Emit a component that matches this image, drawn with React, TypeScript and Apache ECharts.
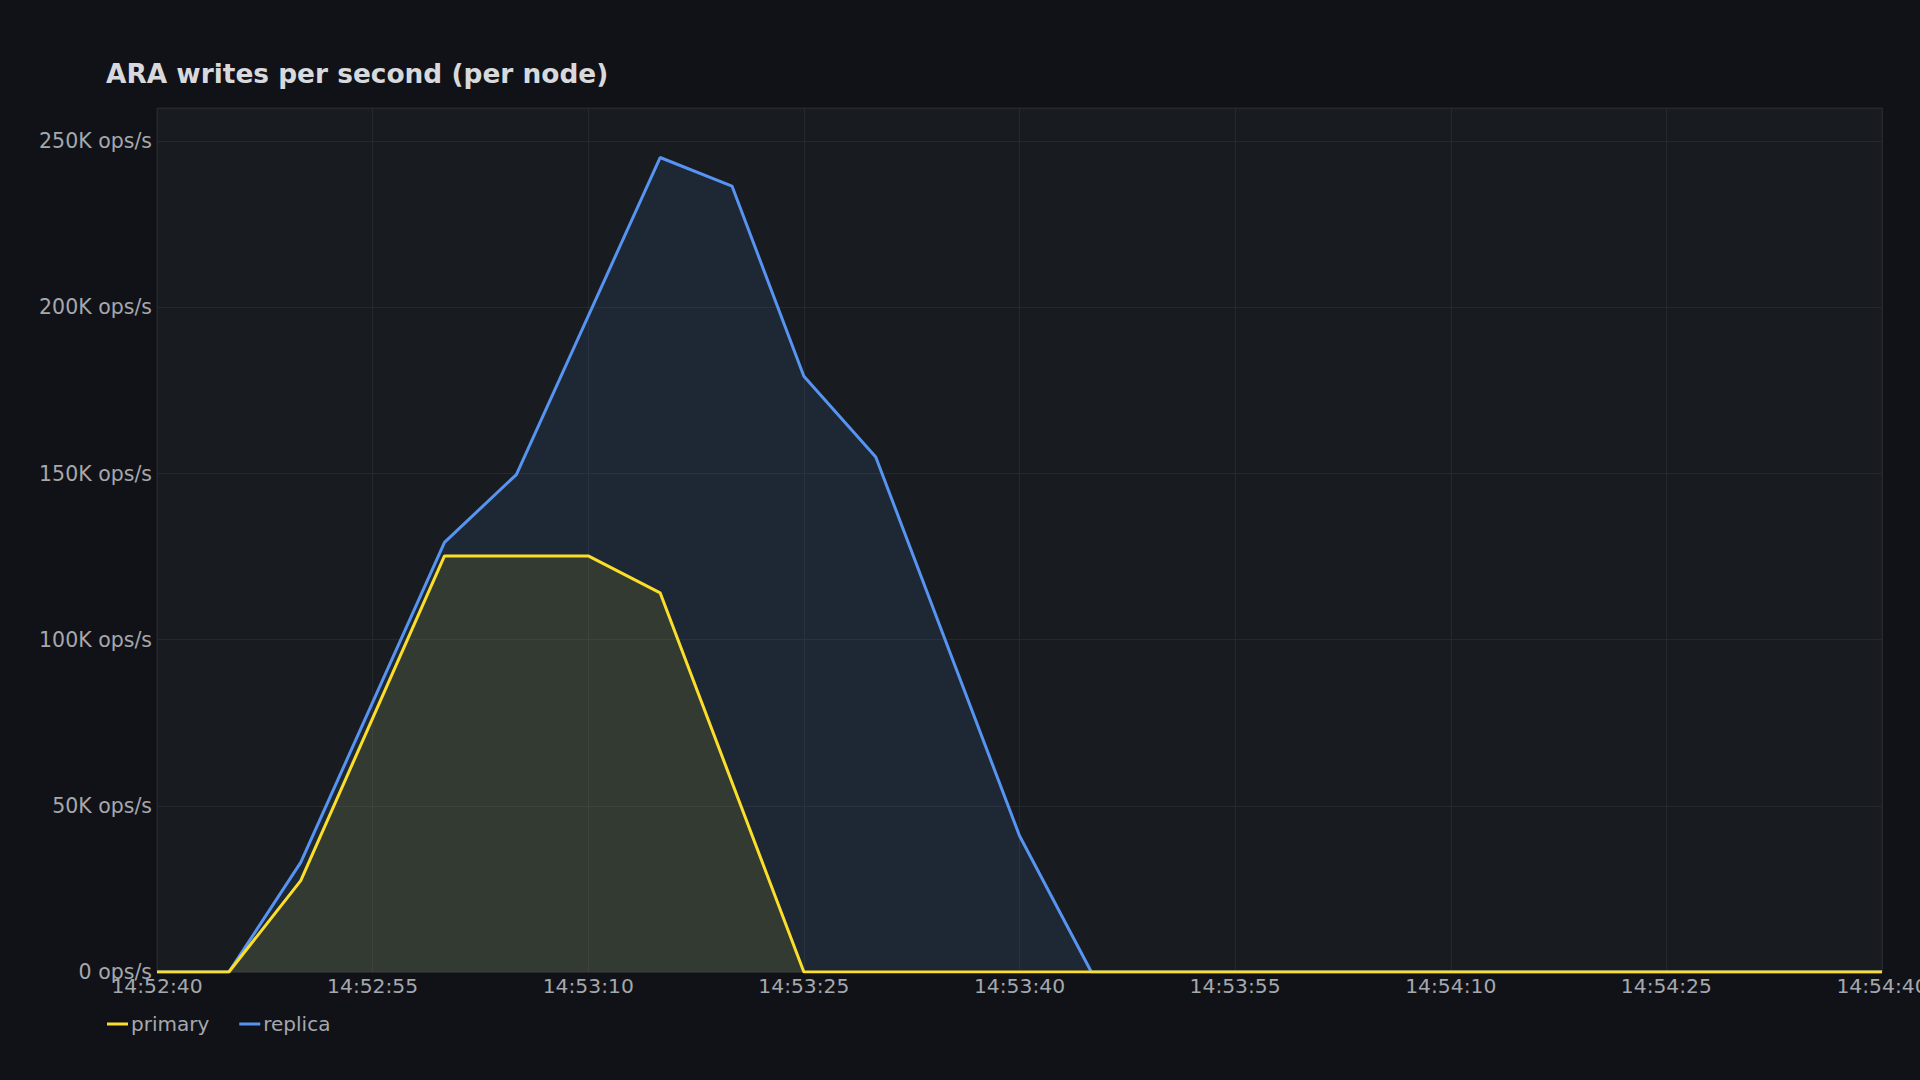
import React, { useEffect, useRef } from 'react';
import * as echarts from 'echarts';

const chartTitle = 'ARA writes per second (per node)';
const startTime = '14:52:40';
const endTime = '14:54:40';
const xTickStepSeconds = 15;

const primaryTimes = ['14:52:40', '14:52:45', '14:52:50', '14:53:00', '14:53:10', '14:53:15', '14:53:25', '14:54:40'];
const primaryValues = [0, 0, 27500, 125200, 125200, 114100, 0, 0];

const replicaTimes = ['14:52:40', '14:52:45', '14:52:50', '14:53:00', '14:53:05', '14:53:15', '14:53:20', '14:53:25', '14:53:30', '14:53:40', '14:53:45', '14:54:40'];
const replicaValues = [0, 0, 33000, 129300, 149700, 245100, 236500, 179300, 155000, 41000, 0, 0];

const yMax = 260000;
const yTickStep = 50000;

const toSec = (t: string) => {
  const [h, m, s] = t.split(':').map(Number);
  return h * 3600 + m * 60 + s;
};
const pad = (n: number) => String(n).padStart(2, '0');
const secToStr = (sec: number) => {
  const h = Math.floor(sec / 3600);
  const m = Math.floor((sec % 3600) / 60);
  const s = Math.round(sec % 60);
  return `${pad(h)}:${pad(m)}:${pad(s)}`;
};

const base = toSec(startTime);
const toPairs = (times: string[], vals: number[]) => times.map((t, i) => [toSec(t) - base, vals[i]]);

const FONT = 'DejaVu Sans';
const LABEL_COLOR = '#a5a8ad';

export default function App() {
  const ref = useRef<HTMLDivElement>(null);
  useEffect(() => {
    if (!ref.current) return;
    const chart = echarts.init(ref.current, null, { renderer: 'svg' });
    chart.setOption({
      animation: false,
      backgroundColor: '#111217',
      title: {
        text: chartTitle,
        left: 106,
        top: 60,
        padding: 0,
        textStyle: { color: '#d8d9dc', fontFamily: FONT, fontWeight: 'bold', fontSize: 26.4 },
      },
      legend: {
        left: 107,
        top: 1014,
        padding: 0,
        icon: 'rect',
        itemWidth: 21,
        itemHeight: 3,
        itemGap: 30,
        data: ['primary', 'replica'],
        textStyle: { color: LABEL_COLOR, fontFamily: FONT, fontSize: 20, padding: [0, 0, 0, -2] },
      },
      grid: {
        left: 157,
        right: 38,
        top: 108,
        bottom: 108,
        outerBoundsMode: 'none',
        containLabel: false,
        show: true,
        backgroundColor: '#181b1f',
        borderColor: '#222529',
        borderWidth: 1,
      },
      xAxis: {
        type: 'value',
        min: 0,
        max: toSec(endTime) - base,
        interval: xTickStepSeconds,
        axisLine: { show: false },
        axisTick: { show: false },
        splitLine: { show: true, lineStyle: { color: '#25282d', width: 1 } },
        axisLabel: {
          color: LABEL_COLOR,
          fontFamily: FONT,
          fontSize: 20.3,
          margin: 4,
          hideOverlap: false,
          formatter: (v: number) => secToStr(v + base),
        },
      },
      yAxis: {
        type: 'value',
        min: 0,
        max: yMax,
        interval: yTickStep,
        axisLine: { show: false },
        axisTick: { show: false },
        splitLine: { show: true, lineStyle: { color: '#25282d', width: 1 } },
        axisLabel: {
          color: LABEL_COLOR,
          fontFamily: FONT,
          fontSize: 20.5,
          margin: 5,
          showMaxLabel: false,
          formatter: (v: number) => (v === 0 ? '0 ops/s' : `${v / 1000}K ops/s`),
        },
      },
      series: [
        {
          name: 'replica',
          type: 'line',
          data: toPairs(replicaTimes, replicaValues),
          showSymbol: false,
          symbol: 'none',
          color: '#5794F2',
          lineStyle: { width: 3, color: '#5794F2' },
          areaStyle: { color: '#5794F2', opacity: 0.1 },
        },
        {
          name: 'primary',
          type: 'line',
          data: toPairs(primaryTimes, primaryValues),
          showSymbol: false,
          symbol: 'none',
          color: '#FADE2A',
          lineStyle: { width: 3, color: '#FADE2A' },
          areaStyle: { color: '#FADE2A', opacity: 0.1 },
        },
      ],
    });
    return () => chart.dispose();
  }, []);
  return <div ref={ref} style={{ position: 'fixed', left: 0, top: 0, width: 1920, height: 1080 }} />;
}
